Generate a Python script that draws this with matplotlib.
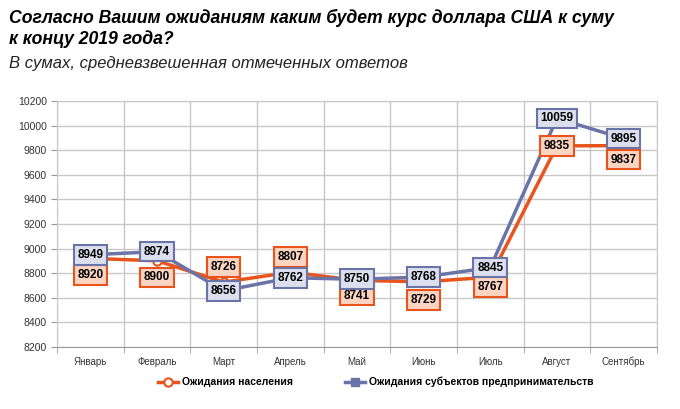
import matplotlib.pyplot as plt
from matplotlib.ticker import MultipleLocator

plt.rcParams['font.family'] = ['Liberation Sans Narrow', 'Liberation Sans', 'DejaVu Sans']

months = ["Январь", "Февраль", "Март", "Апрель", "Май", "Июнь", "Июль", "Август", "Сентябрь"]
population = [8920, 8900, 8726, 8807, 8741, 8729, 8767, 9835, 9837]
business = [8949, 8974, 8656, 8762, 8750, 8768, 8845, 10059, 9895]
# label offset for the population series, in points (+ above, - below)
pop_offsets = [-12, -12, 11, 11, -11, -13, -7, 0, -10]

ORANGE = "#E8541C"
BLUE = "#6B74A6"
GRID = "#C8C8C8"


def main():
    fig = plt.figure(figsize=(6.8, 4.09), dpi=100)
    ax = fig.add_axes([0.084, 0.152, 0.882, 0.601])

    x = list(range(len(months)))
    ax.plot(x, population, color=ORANGE, lw=2.5, marker="o", ms=6,
            mfc="white", mec=ORANGE, mew=1.5, label="Ожидания населения", zorder=3)
    ax.plot(x, business, color=BLUE, lw=2.5, marker="s", ms=6,
            mfc=BLUE, mec=BLUE, label="Ожидания субъектов предпринимательств", zorder=3)

    for xi, v in zip(x, business):
        ax.annotate(str(v), (xi, v), xytext=(0, 0), textcoords="offset points",
                    ha="center", va="center", fontsize=8.5, fontweight="bold",
                    bbox=dict(boxstyle="square,pad=0.32", fc="#DCDFEE", ec=BLUE, lw=1.5),
                    zorder=5)
    for xi, v, off in zip(x, population, pop_offsets):
        ax.annotate(str(v), (xi, v), xytext=(0, off), textcoords="offset points",
                    ha="center", va="center", fontsize=8.5, fontweight="bold",
                    bbox=dict(boxstyle="square,pad=0.32", fc="#FCD5C2", ec=ORANGE, lw=1.5),
                    zorder=4)

    ax.set_xlim(-0.5, len(months) - 0.5)
    ax.set_ylim(8200, 10200)
    ax.yaxis.set_major_locator(MultipleLocator(200))
    ax.set_xticks(x)
    ax.set_xticklabels(months, fontsize=7, color="#333333")
    ax.set_xticks([i - 0.5 for i in range(len(months) + 1)], minor=True)
    ax.tick_params(axis="x", which="major", length=0, pad=7)
    ax.tick_params(axis="x", which="minor", length=4, color="#999999")
    ax.tick_params(axis="y", labelsize=7.5, colors="#333333", length=4, color="#999999")

    ax.grid(axis="y", color=GRID, lw=1)
    ax.grid(axis="x", which="minor", color=GRID, lw=1)
    ax.set_axisbelow(True)
    for side in ["top", "right"]:
        ax.spines[side].set_color(GRID)
    ax.spines["left"].set_color(GRID)
    ax.spines["bottom"].set_color("#999999")

    fig.text(0.013, 0.977, "Согласно Вашим ожиданиям каким будет курс доллара США к суму\nк концу 2019 года?",
             fontsize=12.7, fontweight="bold", style="italic", va="top", linespacing=1.2)
    fig.text(0.013, 0.862, "В сумах, средневзвешенная отмеченных ответов",
             fontsize=12, style="italic", va="top", color="#222222")

    fig.legend(loc="center", bbox_to_anchor=(0.552, 0.066), ncol=2, frameon=False,
               prop={"weight": "bold", "size": 7.5}, handlelength=2.0,
               handletextpad=0.3, columnspacing=5.0)

    fig.savefig("out.png", dpi=100)


if __name__ == "__main__":
    main()
